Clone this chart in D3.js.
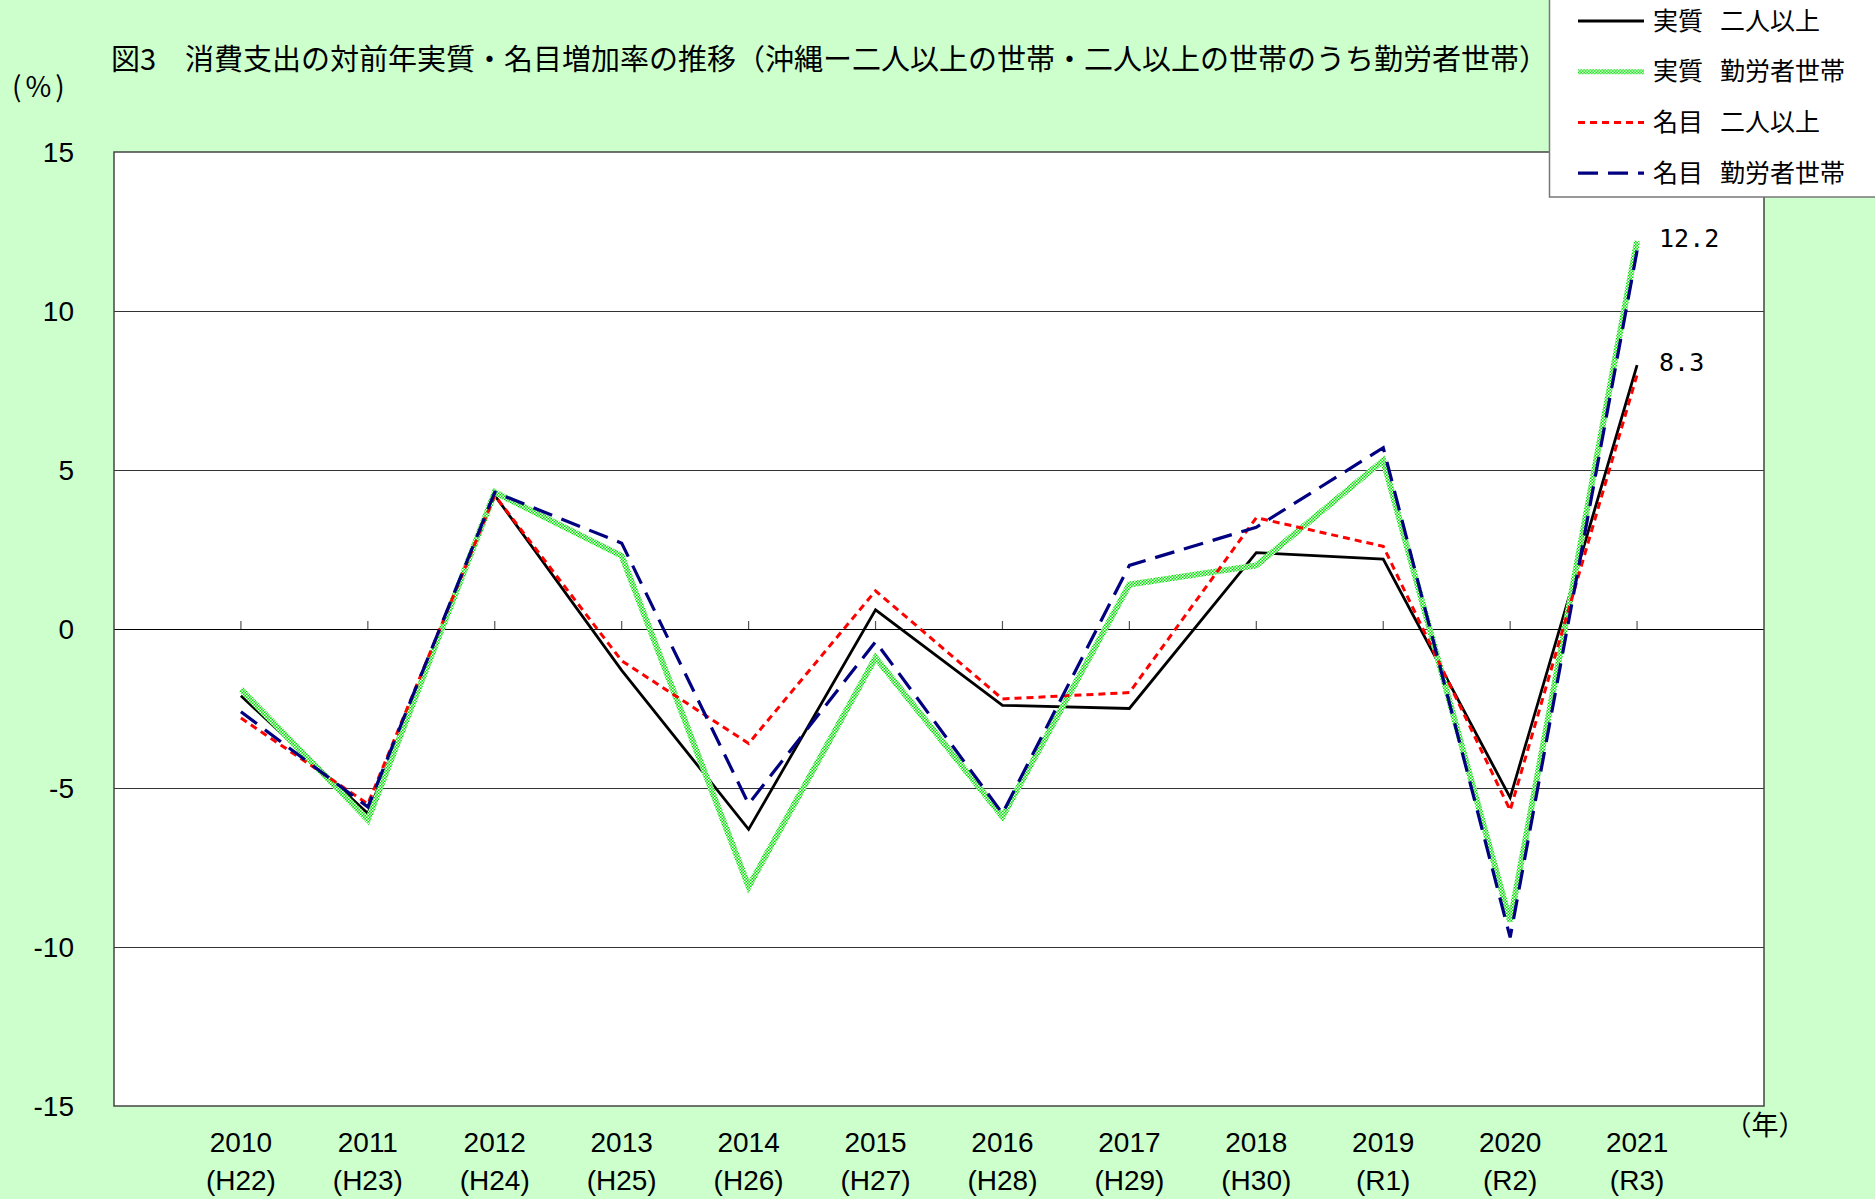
<!DOCTYPE html>
<html>
<head>
<meta charset="utf-8">
<script src="https://cdn.jsdelivr.net/npm/d3@7"></script>
<style>
  body { margin: 0; background: #ccffcc; }
  svg { display: block; }
</style>
</head>
<body>
<div id="chart"></div>
<script>
const years = [2010, 2011, 2012, 2013, 2014, 2015, 2016, 2017, 2018, 2019, 2020, 2021]
const eras = ['(H22)', '(H23)', '(H24)', '(H25)', '(H26)', '(H27)', '(H28)', '(H29)', '(H30)', '(R1)', '(R2)', '(R3)']
const yTicks = [-15, -10, -5, 0, 5, 10, 15]

// 実質 二人以上
const realAll = [-2.1, -5.8, 4.2, -1.3, -6.3, 0.6, -2.4, -2.5, 2.4, 2.2, -5.3, 8.3]
// 実質 勤労者世帯
const realWorker = [-1.9, -6.0, 4.3, 2.3, -8.1, -0.9, -5.9, 1.4, 2.0, 5.3, -9.2, 12.2]
// 名目 二人以上
const nomAll = [-2.8, -5.5, 4.2, -1.0, -3.6, 1.2, -2.2, -2.0, 3.5, 2.6, -5.7, 8.0]
// 名目 勤労者世帯
const nomWorker = [-2.6, -5.6, 4.3, 2.7, -5.5, -0.4, -5.8, 2.0, 3.2, 5.7, -9.7, 11.9]

const seriesNames = ['実質 二人以上', '実質 勤労者世帯', '名目 二人以上', '名目 勤労者世帯']

const totalW = 1875
const totalH = 1199
const margin = { top: 152, left: 114, right: 111, bottom: 93 }
const width = totalW - margin.left - margin.right
const height = totalH - margin.top - margin.bottom

const root = d3
  .select('#chart')
  .append('svg')
  .attr('width', totalW)
  .attr('height', totalH)

root.append('rect')
  .attr('width', totalW)
  .attr('height', totalH)
  .attr('fill', '#ccffcc')

// checkered green pattern for 実質 勤労者世帯
const pat = root.append('defs')
  .append('pattern')
  .attr('id', 'checker')
  .attr('patternUnits', 'userSpaceOnUse')
  .attr('width', 3)
  .attr('height', 3)
pat.append('rect').attr('width', 3).attr('height', 3).attr('fill', '#00dd00')
pat.append('rect').attr('width', 1.5).attr('height', 1.5).attr('fill', '#f0fff0')
pat.append('rect').attr('x', 1.5).attr('y', 1.5).attr('width', 1.5).attr('height', 1.5).attr('fill', '#f0fff0')

const svg = root.append('g')
  .attr('transform', 'translate(' + margin.left + ',' + margin.top + ')')

// scales: 12 years sit on a 13-step axis
const xPositionScale = d3.scaleLinear().domain([2009, 2022]).range([0, width])
const yPositionScale = d3.scaleLinear().domain([-15, 15]).range([height, 0])

svg.append('rect')
  .attr('width', width)
  .attr('height', height)
  .attr('fill', '#ffffff')

// gridlines
svg.selectAll('.grid')
  .data(yTicks.filter(d => d > -15 && d < 15))
  .enter()
  .append('line')
  .attr('x1', 0)
  .attr('x2', width)
  .attr('y1', d => Math.round(yPositionScale(d)) + 0.5)
  .attr('y2', d => Math.round(yPositionScale(d)) + 0.5)
  .attr('stroke', d => (d === 0 ? '#000' : '#333'))
  .attr('stroke-width', 1.2)

// small ticks on the zero line
svg.selectAll('.tick-mark')
  .data(years)
  .enter()
  .append('line')
  .attr('x1', d => xPositionScale(d))
  .attr('x2', d => xPositionScale(d))
  .attr('y1', yPositionScale(0) - 8)
  .attr('y2', yPositionScale(0))
  .attr('stroke', '#555')
  .attr('stroke-width', 1.2)

svg.append('rect')
  .attr('width', width)
  .attr('height', height)
  .attr('fill', 'none')
  .attr('stroke', '#444')
  .attr('stroke-width', 1.5)

const styles = [
  { values: realAll, stroke: '#000000', width: 2.8, dash: null },
  { values: realWorker, stroke: 'url(#checker)', width: 6, dash: null },
  { values: nomAll, stroke: '#ff0000', width: 3, dash: '7,5' },
  { values: nomWorker, stroke: '#000080', width: 3.2, dash: '20,10' }
]

const line = d3.line()
  .x((d, i) => xPositionScale(years[i]))
  .y(d => yPositionScale(d))

styles.forEach(s => {
  svg.append('path')
    .datum(s.values)
    .attr('d', line)
    .attr('fill', 'none')
    .attr('stroke', s.stroke)
    .attr('stroke-width', s.width)
    .attr('stroke-dasharray', s.dash)
    .attr('stroke-linejoin', 'miter')
})

// end labels
const lastIdx = years.length - 1
svg.selectAll('.end-label')
  .data([realWorker[lastIdx], realAll[lastIdx]])
  .enter()
  .append('text')
  .text(d => d.toFixed(1))
  .attr('x', xPositionScale(years[lastIdx]) + 22)
  .attr('y', d => yPositionScale(d) - 3)
  .attr('dy', '0.35em')
  .attr('font-family', 'DejaVu Sans Mono, monospace')
  .attr('font-size', 25)
  .attr('fill', '#000')

// y axis labels
svg.selectAll('.y-label')
  .data(yTicks)
  .enter()
  .append('text')
  .text(d => d)
  .attr('x', -40)
  .attr('y', d => yPositionScale(d))
  .attr('dy', '0.35em')
  .attr('text-anchor', 'end')
  .attr('font-family', 'Liberation Sans Narrow, Arial Narrow, sans-serif')
  .attr('font-size', 28)
  .attr('fill', '#000')

// x axis labels
svg.selectAll('.x-label')
  .data(years)
  .enter()
  .append('text')
  .text(d => d)
  .attr('x', d => xPositionScale(d))
  .attr('y', height + 36)
  .attr('dy', '0.35em')
  .attr('text-anchor', 'middle')
  .attr('font-family', 'Liberation Sans Narrow, Arial Narrow, sans-serif')
  .attr('font-size', 28)
  .attr('fill', '#000')

svg.selectAll('.era-label')
  .data(eras)
  .enter()
  .append('text')
  .text(d => d)
  .attr('x', (d, i) => xPositionScale(years[i]))
  .attr('y', height + 74)
  .attr('dy', '0.35em')
  .attr('text-anchor', 'middle')
  .attr('font-family', 'Liberation Sans Narrow, Arial Narrow, sans-serif')
  .attr('font-size', 28)
  .attr('fill', '#000')

root.append('text')
  .text('（年）')
  .attr('x', 1765)
  .attr('y', 1126)
  .attr('dy', '0.35em')
  .attr('text-anchor', 'middle')
  .attr('font-family', 'Noto Sans CJK JP, sans-serif')
  .attr('font-size', 27)

root.append('text')
  .text('(%)')
  .attr('x', 12)
  .attr('y', 87)
  .attr('dy', '0.35em')
  .attr('letter-spacing', 4)
  .attr('font-family', 'Noto Sans CJK JP, sans-serif')
  .attr('font-size', 28)

root.append('text')
  .text('図3　消費支出の対前年実質・名目増加率の推移（沖縄ー二人以上の世帯・二人以上の世帯のうち勤労者世帯）')
  .attr('x', 111)
  .attr('y', 60)
  .attr('dy', '0.35em')
  .attr('font-family', 'Noto Sans CJK JP, sans-serif')
  .attr('font-size', 29)
  .attr('fill', '#000')

// legend
const legend = root.append('g').attr('transform', 'translate(1549,0)')
legend.append('rect')
  .attr('x', 0.5)
  .attr('y', -1)
  .attr('width', 330)
  .attr('height', 198)
  .attr('fill', '#ffffff')
  .attr('stroke', '#777')
  .attr('stroke-width', 1.5)

const items = legend.selectAll('.item')
  .data(seriesNames)
  .enter()
  .append('g')
  .attr('transform', (d, i) => 'translate(0,' + (21 + i * 50.7) + ')')

items.append('line')
  .attr('x1', 29)
  .attr('x2', 95)
  .attr('stroke', (d, i) => styles[i].stroke)
  .attr('stroke-width', (d, i) => (i === 1 ? 5 : styles[i].width))
  .attr('stroke-dasharray', (d, i) => styles[i].dash)

items.append('text')
  .text(d => d.split(' ')[0])
  .attr('x', 104)
  .attr('dy', '0.35em')
  .attr('font-family', 'Noto Sans CJK JP, sans-serif')
  .attr('font-size', 25)
  .append('tspan')
  .attr('dx', 17)
  .text(d => d.split(' ')[1])
</script>
</body>
</html>
